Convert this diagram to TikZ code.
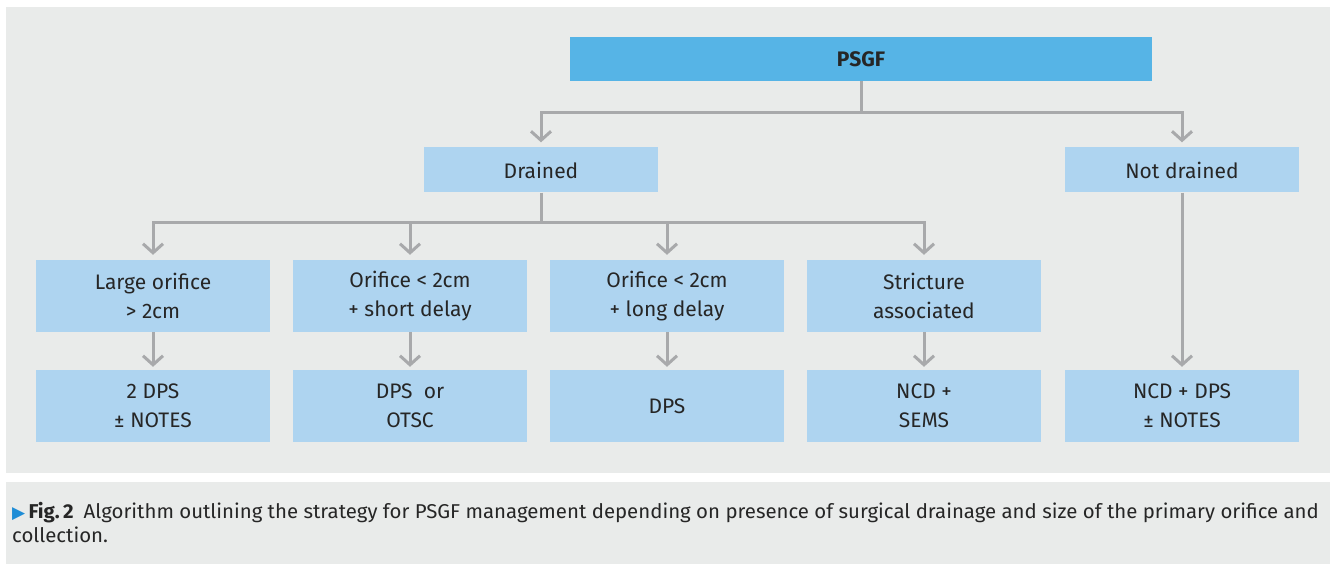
\documentclass[tikz,border=0pt]{standalone}
\usepackage{fontspec}
\setmainfont{Fira Sans}
\newfontfamily\capfont[FakeStretch=1.02]{Fira Sans}
\newfontfamily\symfont{DejaVu Sans}
\usetikzlibrary{arrows.meta}

\definecolor{panelgray}{HTML}{E9EBEA}
\definecolor{headblue}{HTML}{56B4E6}
\definecolor{boxblue}{HTML}{AED4F0}
\definecolor{linkgray}{HTML}{A8A9AB}
\definecolor{textdark}{HTML}{262626}
\definecolor{markblue}{HTML}{1F8DD6}

\begin{document}
\begin{tikzpicture}[
        x=1pt, y=-1pt,
        box/.style = {fill=boxblue, text=textdark, align=center, inner sep=0pt, minimum width=234pt, minimum height=#1, font=\fontsize{21}{29}\selectfont},
        box/.default = 72pt,
        head/.style = {box=44pt, fill=headblue, minimum width=582pt, font=\fontsize{21}{29}\selectfont\bfseries},
        link/.style = {draw=linkgray, line width=3pt},
        arrow/.style = {link, ->, shorten >=5pt},
        >={Straight Barb[length=9pt, width=20pt]}
        ]

        \useasboundingbox (0,0) rectangle (1335,564);
        \fill[panelgray] (6,7) rectangle (1330,473);
        \fill[panelgray] (6,482) rectangle (1330,564);

        \node (psgf) at (861,59)          [head] {PSGF};
        \node (drained) at (541,170)      [box=45pt] {Drained};
        \node (notdrained) at (1182,170)  [box=45pt] {Not drained};

        \node (large) at (153,296)        [box] {Large orifice\\> 2cm};
        \node (short) at (410,296)        [box] {Orifice < 2cm\\+ short delay};
        \node (long) at (667,296)         [box] {Orifice < 2cm\\+ long delay};
        \node (stricture) at (924,296)    [box] {Stricture\\associated};

        \node (twodps) at (153,406)       [box] {2 DPS\\± NOTES};
        \node (dpsotsc) at (410,406)      [box] {DPS~~or\\OTSC};
        \node (dps) at (667,406)          [box] {DPS};
        \node (ncdsems) at (924,406)      [box] {NCD +\\SEMS};
        \node (ncddps) at (1182,406)      [box] {NCD + DPS\\± NOTES};

        \draw[link] (psgf.south) -- ++(0,31) coordinate (split1);
        \draw[arrow] (split1) -| (drained);
        \draw[arrow] (split1) -| (notdrained);

        \draw[link] (drained.south) -- ++(0,30) coordinate (split2);
        \foreach \n in {large, short, long, stricture}
            \draw[arrow] (split2) -| (\n);

        \foreach \a/\b in {large/twodps, short/dpsotsc, long/dps, stricture/ncdsems, notdrained/ncddps}
            \draw[arrow, shorten >=3pt] (\a) -- (\b);

        \node (caption) at (12,502) [anchor=north west, align=left, inner sep=0pt, text=textdark, font=\capfont\fontsize{20}{24}\selectfont]
            {{\symfont\color{markblue}\fontsize{17}{24}\selectfont ▶}\,\textbf{Fig.\,2}\enspace Algorithm outlining the strategy for PSGF management depending on presence of surgical drainage and size of the primary orifice and\\collection.};
\end{tikzpicture}
\end{document}
